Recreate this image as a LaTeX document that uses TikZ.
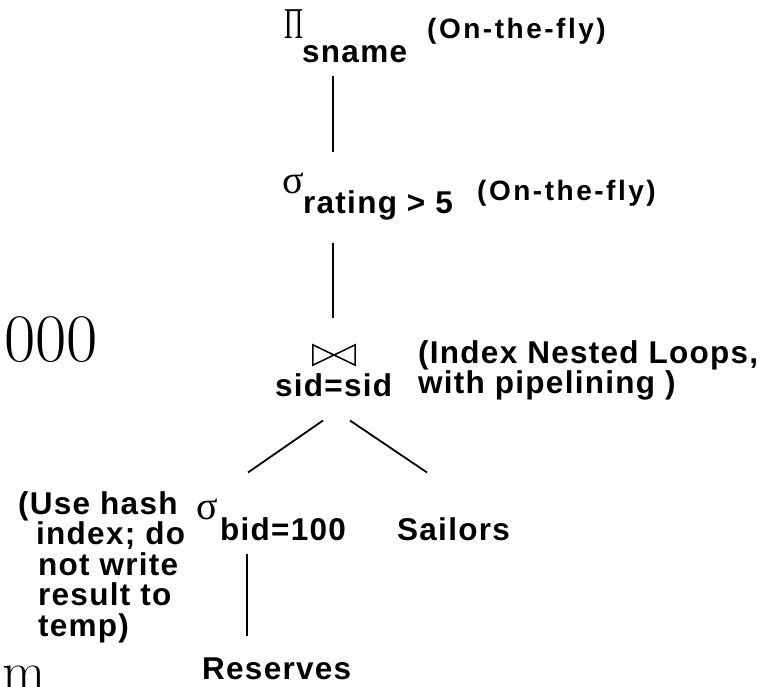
\documentclass[tikz,border=0pt]{standalone}
\usepackage{fontspec}
\newfontfamily\lab{Liberation Sans}[LetterSpace=4]
\newfontfamily\labw{Liberation Sans}[LetterSpace=9]
\newfontfamily\grk{Liberation Serif}
\usetikzlibrary{calc}
\begin{document}
\begin{tikzpicture}[x=1pt,y=-1pt,
  lbl/.style={font=\lab\bfseries\fontsize{31.5}{30.5}\selectfont, inner sep=0pt, anchor=base west},
  note/.style={font=\labw\bfseries\fontsize{28}{30}\selectfont, inner sep=0pt, anchor=base west},
  greek/.style={font=\grk\fontsize{40}{40}\selectfont, inner sep=0pt, anchor=center},
  serifcut/.style={inner sep=0pt},
  edge/.style={line width=1.8pt},
  bowline/.style={line width=1.5pt, line join=miter}]
\useasboundingbox (0,0) rectangle (777,686);
\clip (0,0) rectangle (777,686);

% cut-off slide text at the left edge
\node[serifcut, font=\fontsize{68}{68}\selectfont, anchor=base east] (thousand) at (98,361) {000};
\node[serifcut, font=\fontsize{56}{56}\selectfont, anchor=base west] (mfrag) at (2,690) {m};

% projection
\node[greek, font=\grk\fontsize{44}{44}\selectfont] (pi) at (294,24) {\scalebox{0.6}[1]{Π}};
\node[lbl] (sname) at (302,62) {sname};
\node[note] (otf1) at (427,38) {(On-the-fly)};

% selection rating > 5
\node[greek] (sig1) at (293,183) {σ};
\node[lbl] (rating) at (303,213) {rating > 5};
\node[note] (otf2) at (477,200) {(On-the-fly)};

% join
\node[inner sep=0pt, minimum width=42pt, minimum height=20pt] (bow) at (334,355) {};
\draw[bowline] (bow.north west) -- (bow.south east) -- (bow.north east) -- (bow.south west) -- cycle;
\node[lbl] (sid) at (275,396) {sid=sid};
\node[lbl] (inl1) at (418,363) {(Index Nested Loops,};
\node[lbl] (inl2) at (418,393) {with pipelining )};

% selection bid=100
\node[greek] (sig2) at (207,509) {σ};
\node[lbl] (bid) at (220,540) {bid=100};
\node[lbl] (use1) at (18,514) {(Use hash};
\node[lbl] (use2) at (36,544) {index; do};
\node[lbl] (use3) at (38,575) {not write};
\node[lbl] (use4) at (38,605) {result to};
\node[lbl] (use5) at (38,636) {temp)};

% leaves
\node[lbl] (sailors) at (397,540) {Sailors};
\node[lbl] (reserves) at (202,679) {Reserves};

% connectors
\draw[edge] ($(sname.south west)+(31,13)$) -- ($(rating.north west)+(30,-37.5)$);
\draw[edge] ($(rating.south west)+(30,23.4)$) -- ($(bow.north)+(-1,-27)$);
\draw[edge] ($(sid.south -| bow.center)+(-11,24)$) -- ($(bid.north west)+(28,-44.5)$);
\draw[edge] ($(sid.south -| bow.center)+(16,24)$) -- ($(sailors.north west)+(30,-44.5)$);
\draw[edge] ($(bid.south west)+(27,13)$) -- ($(reserves.north west)+(45,-21.5)$);
\end{tikzpicture}
\end{document}
